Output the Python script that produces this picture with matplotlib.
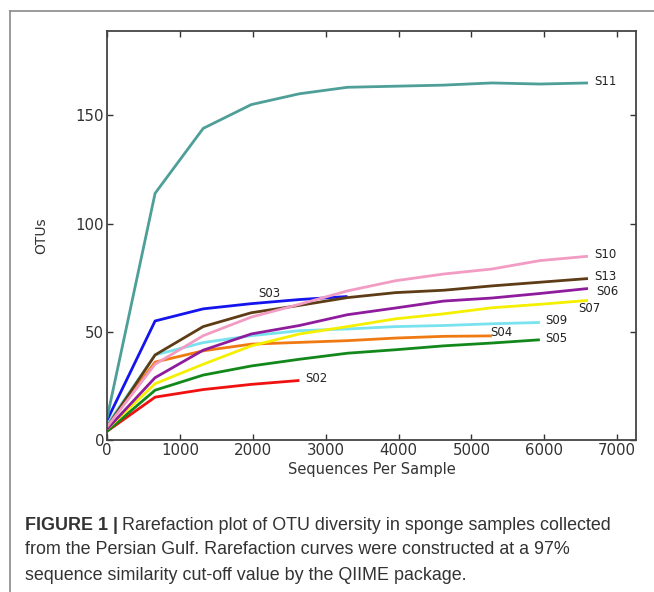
#!/usr/bin/env python3
import matplotlib
matplotlib.use("Agg")
import matplotlib.pyplot as plt
from matplotlib.lines import Line2D

# rarefaction depths (sequences per sample)
depth = [0, 660, 1320, 1980, 2640, 3300, 3960, 4620, 5280, 5940, 6600]

# OTU counts
s11 = [10, 114, 144, 155, 160, 163, 163.5, 164, 165, 164.5, 165]
s10 = [6, 35, 48.2, 56.8, 62.7, 68.9, 73.6, 76.7, 79, 82.9, 84.9]
s13 = [6, 39.3, 52.4, 58.8, 62.2, 65.8, 68.1, 69.2, 71.2, 72.9, 74.6]
s06 = [5, 28.8, 41.5, 49, 52.9, 57.9, 61, 64.2, 65.6, 67.7, 70]
s07 = [5, 26, 35, 43.5, 49, 52.4, 56, 58.3, 61.1, 62.7, 64.5]
s09 = [7, 39.3, 45, 48.2, 50.5, 51.3, 52.4, 52.9, 53.7, 54.3]
s04 = [7, 36, 41.2, 44.3, 45.1, 45.9, 47.1, 47.9, 48.1]
s05 = [4, 23, 30, 34.2, 37.3, 40.1, 41.7, 43.5, 44.8, 46.3]
s03 = [9, 55, 60.6, 63, 64.9, 66.3]
s02 = [4, 19.8, 23.3, 25.7, 27.5]

names = ["S11", "S10", "S13", "S06", "S07", "S09", "S04", "S05", "S03", "S02"]
series = [s11, s10, s13, s06, s07, s09, s04, s05, s03, s02]
colors = ["#4e9f98", "#f29cc4", "#5e3c15", "#8e1c9c", "#f4f000", "#78e2ee",
          "#f07a12", "#12881a", "#1414ee", "#f01010"]

fig = plt.figure(figsize=(6.54, 5.92), dpi=100)
ax = fig.add_axes([0.1636, 0.2568, 0.809, 0.6908])

# draw from the back so the order roughly matches the picture
for name, ys, c in reversed(list(zip(names, series, colors))):
    ax.plot(depth[:len(ys)], ys, color=c, lw=2.0, solid_capstyle="butt")

# end labels
lab_kw = dict(fontsize=8.5, color="#222222", va="center")
for name, ys in zip(names, series):
    x_end = depth[len(ys) - 1]
    y_end = ys[-1]
    if name == "S03":
        ax.text(2070, 67.6, name, ha="left", **lab_kw)
    elif name == "S07":
        ax.text(x_end - 140, y_end - 3.6, name, ha="left", **lab_kw)
    elif name == "S04":
        ax.text(x_end - 20, y_end + 1.8, name, ha="left", **lab_kw)
    elif name == "S06":
        ax.text(x_end + 110, y_end - 1.2, name, ha="left", **lab_kw)
    else:
        ax.text(x_end + 80, y_end + 0.8, name, ha="left", **lab_kw)

ax.set_xlim(0, 7260)
ax.set_ylim(0, 189)
ax.set_xticks([0, 1000, 2000, 3000, 4000, 5000, 6000, 7000])
ax.set_yticks([0, 50, 100, 150])
ax.tick_params(direction="in", top=True, right=True, length=4, width=1,
               labelsize=10.8, colors="#333333", pad=2)
ax.tick_params(axis="x", labeltop=False)
ax.tick_params(axis="y", labelright=False)
for sp in ax.spines.values():
    sp.set_color("#444444")
    sp.set_linewidth(1.3)
ax.set_xlabel("Sequences Per Sample", fontsize=10.5, color="#333333", labelpad=3)
ax.set_ylabel("OTUs", fontsize=10, color="#333333", labelpad=20)

# outer frame (top and left edges visible)
fig.add_artist(Line2D([10 / 654, 1.0], [1 - 11 / 592, 1 - 11 / 592],
                      transform=fig.transFigure, color="#8a8a8a", lw=1.2))
fig.add_artist(Line2D([10 / 654, 10 / 654], [0.0, 1 - 11 / 592],
                      transform=fig.transFigure, color="#8a8a8a", lw=1.2))

# caption
cap_kw = dict(fontsize=12.9, color="#333333", family="Liberation Sans", va="center")
x0 = 25 / 654
y1 = 1 - 525 / 592
bold = fig.text(x0, y1, "FIGURE 1 |", fontweight="bold", **cap_kw)
fig.canvas.draw()
bb = bold.get_window_extent(renderer=fig.canvas.get_renderer())
fig.text(bb.x1 / fig.bbox.width + 4 / 654, y1,
         "Rarefaction plot of OTU diversity in sponge samples collected", **cap_kw)
fig.text(x0, 1 - 550 / 592,
         "from the Persian Gulf. Rarefaction curves were constructed at a 97%", **cap_kw)
fig.text(x0, 1 - 575 / 592,
         "sequence similarity cut-off value by the QIIME package.", **cap_kw)

fig.savefig("out.png", dpi=100)
